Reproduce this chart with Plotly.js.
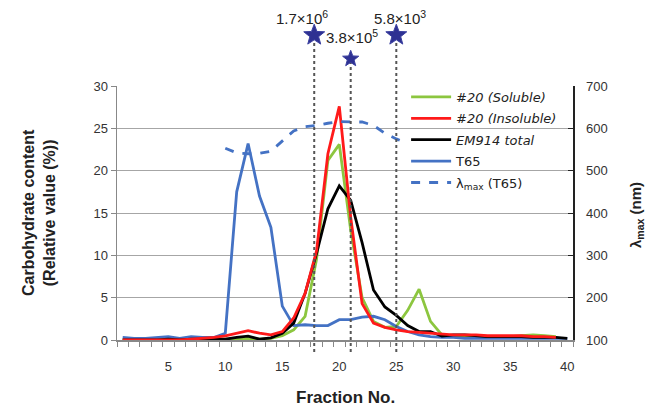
<!DOCTYPE html>
<html>
<head>
<meta charset="utf-8">
<script src="https://cdn.plot.ly/plotly-3.0.1.min.js"></script>
<style>html,body{margin:0;padding:0;background:#fff;}#chart{width:664px;height:413px;}</style>
</head>
<body>
<div id="chart"></div>
<script>
// ---- data ----
const fractions = [1,2,3,4,5,6,7,8,9,10,11,12,13,14,15,16,17,18,19,20,21,22,23,24,25,26,27,28,29,30,31,32,33,34,35,36,37,38,39,40];
const soluble   = [0,0,0,0,0,0,0,0.05,0.1,0.1,0.1,0.2,0.1,0.2,0.5,1.2,2.8,9.5,21.2,23.1,13,5,2.2,1.5,1.6,3.5,6.0,2.2,0.6,0.5,0.5,0.4,0.4,0.4,0.4,0.5,0.6,0.5,0.4,null];
const insoluble = [0,0,0,0,0,0,0.1,0.2,0.3,0.5,0.8,1.1,0.8,0.6,1.0,2.6,5.5,10.5,22,27.6,14.5,4.3,2.0,1.5,1.2,1.0,0.9,0.8,0.7,0.6,0.6,0.6,0.5,0.5,0.5,0.5,0.4,0.4,0.3,null];
const em914     = [0,0,0,0,0.1,0,0.1,0.1,0.1,0.1,0.3,0.45,0.1,0.25,0.8,2.0,5.5,10.2,15.5,18.2,16.5,11.5,5.9,3.9,2.9,1.7,1.0,1.0,0.45,0.6,0.6,0.5,0.4,0.4,0.4,0.4,0.3,0.3,0.3,0.2];
const t65       = [0.3,0.2,0.2,0.3,0.4,0.2,0.4,0.3,0.3,0.8,17.5,23.2,17.0,13.3,4.0,1.7,1.8,1.7,1.7,2.4,2.4,2.7,2.8,2.4,1.6,1.0,0.6,0.4,0.3,0.3,0.2,0.2,0.2,0.2,0.2,0.2,0.2,0.2,0.2,0.2];
const lambdaFractions = [10,11,12,13,14,15,16,17,18,19,20,21,22,23,24,25,26];
const lambdaMax = [553,542,540,541,546,570,594,604,607,612,616,615,615,607,588,575,565];
const mwFractions = [17.8,21,25];
const mwLabels = ['1.7×10<sup>6</sup>','3.8×10<sup>5</sup>','5.8×10<sup>3</sup>'];
const xTickVals = [5,10,15,20,25,30,35,40];
const leftTicks = [0,5,10,15,20,25,30];
const rightTicks = [100,200,300,400,500,600,700];

// ---- styling / layout ----
const F = 'Liberation Sans, Arial, sans-serif';
const LF = 'DejaVu Sans, Liberation Sans, sans-serif';
const starYpaper = [1.2, 1.107, 1.2];
const starR = [11, 8.5, 11];
const lineTop = [1.18, 1.095, 1.18];
const labelShift = [-12, 1, 4];
const labelY = [1.268, 1.193, 1.268];

function starPath(R) {
  const r = R * 0.42;
  let p = '';
  for (let k = 0; k < 10; k++) {
    const a = Math.PI / 2 + k * Math.PI / 5;
    const rad = (k % 2 === 0) ? R : r;
    const x = (rad * Math.cos(a)).toFixed(2);
    const y = (rad * Math.sin(a)).toFixed(2);
    p += (k === 0 ? 'M' : 'L') + x + ',' + y;
  }
  return p + 'Z';
}

const traces = [
  {x: fractions, y: soluble, name: '<i>#20 (Soluble)</i>', mode: 'lines', line: {color: '#8cc63f', width: 2.8}, legendrank: 1, legendgroup: 'a'},
  {x: fractions, y: t65, name: 'T65', mode: 'lines', line: {color: '#4472c4', width: 2.8}, legendrank: 4, legendgroup: 'd'},
  {x: fractions, y: em914, name: '<i>EM914 total</i>', mode: 'lines', line: {color: '#000000', width: 2.8}, legendrank: 3, legendgroup: 'c'},
  {x: fractions, y: insoluble, name: '<i>#20 (Insoluble)</i>', mode: 'lines', line: {color: '#ff1a1a', width: 2.8}, legendrank: 2, legendgroup: 'b'},
  {x: lambdaFractions, y: lambdaMax, name: 'λ<sub>max</sub> (T65)', mode: 'lines', yaxis: 'y2', line: {color: '#4472c4', width: 2.8, dash: 'dash'}, legendrank: 5, legendgroup: 'e'}
];

const shapes = mwFractions.map((f, i) => ({
  type: 'line', xref: 'x', yref: 'paper', x0: f, x1: f, y0: -0.047, y1: lineTop[i],
  line: {color: '#555555', width: 2, dash: 'dot'}, layer: 'above'
}));
mwFractions.forEach((f, i) => {
  shapes.push({type: 'path', xref: 'x', yref: 'paper', xsizemode: 'pixel', ysizemode: 'pixel',
    xanchor: f, yanchor: starYpaper[i], path: starPath(starR[i]),
    fillcolor: '#2e3192', line: {color: '#3a3fa0', width: 1}, layer: 'above'});
});

const annotations = mwFractions.map((f, i) => ({
  xref: 'x', yref: 'paper', x: f, y: labelY[i], xshift: labelShift[i], text: mwLabels[i],
  showarrow: false, xanchor: 'center', yanchor: 'middle', font: {family: F, size: 15, color: '#222'}
}));
annotations.push(
  {xref: 'paper', yref: 'paper', x: (39 - 117) / 456, y: 0.5, text: '<b>Carbohydrate content<br>(Relative value (%))</b>',
   textangle: -90, showarrow: false, xanchor: 'center', yanchor: 'middle', font: {family: F, size: 16, color: '#222'}},
  {xref: 'paper', yref: 'paper', x: (636 - 117) / 456, y: 0.492, text: '<b>λ<sub>max</sub> (nm)</b>',
   textangle: -90, showarrow: false, xanchor: 'center', yanchor: 'middle', font: {family: F, size: 15, color: '#222'}},
  {xref: 'paper', yref: 'paper', x: (345 - 117) / 456, y: -0.228, text: '<b>Fraction No.</b>',
   showarrow: false, xanchor: 'center', yanchor: 'middle', font: {family: F, size: 17, color: '#222'}}
);

const layout = {
  width: 664, height: 413,
  margin: {l: 117, r: 91, t: 86, b: 73},
  paper_bgcolor: '#fff', plot_bgcolor: '#fff',
  font: {family: F, size: 13, color: '#333'},
  showlegend: true,
  legend: {x: 0.634, y: 1.016, xanchor: 'left', yanchor: 'top', bgcolor: 'rgba(0,0,0,0)',
           font: {family: LF, size: 13, color: '#222'}, traceorder: 'grouped', tracegroupgap: 1.5, itemwidth: 40},
  xaxis: {range: [0.5, 40.5], tickmode: 'array', tickvals: xTickVals, ticks: '', showgrid: false,
          showline: true, linecolor: '#888', linewidth: 1.5, zeroline: false, ticklabelstandoff: 14,
          tickfont: {family: F, size: 13, color: '#333'},
          minor: {tickmode: 'linear', tick0: 0.5, dtick: 1, ticks: 'outside', ticklen: 5, tickcolor: '#888', tickwidth: 1, showgrid: false}},
  yaxis: {range: [0, 30], tickmode: 'array', tickvals: leftTicks, ticks: 'outside', ticklen: 5, tickcolor: '#888',
          showgrid: true, gridcolor: '#a6a6a6', gridwidth: 1, showline: true, linecolor: '#888', linewidth: 1.5,
          zeroline: false, tickfont: {family: F, size: 13, color: '#333'}},
  yaxis2: {range: [100, 700], overlaying: 'y', side: 'right', tickmode: 'array', tickvals: rightTicks,
           ticks: 'inside', ticklen: 5, tickcolor: '#222', showgrid: false, showline: true, linecolor: '#222', linewidth: 1.5,
           zeroline: false, ticklabelstandoff: 9, tickfont: {family: F, size: 13, color: '#333'}},
  shapes: shapes,
  annotations: annotations
};

Plotly.newPlot('chart', traces, layout, {staticPlot: true, displayModeBar: false});
</script>
</body>
</html>
